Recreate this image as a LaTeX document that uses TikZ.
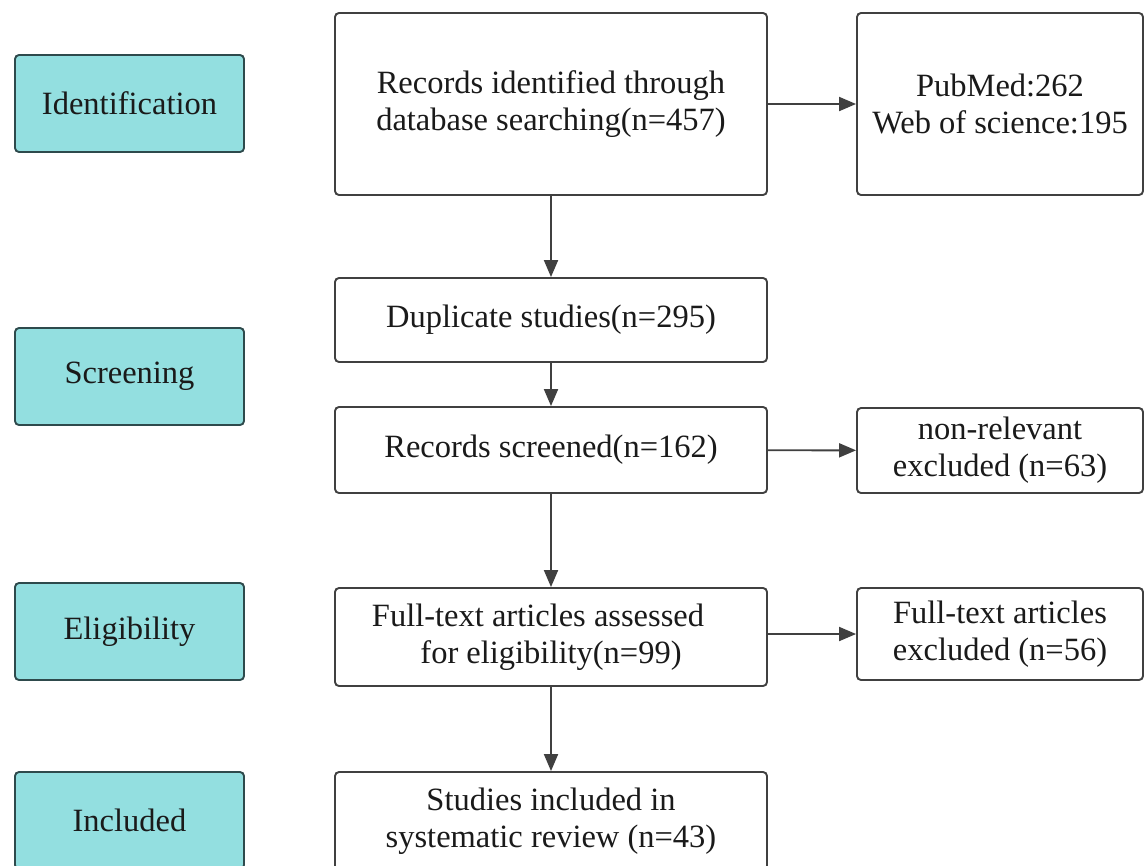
\documentclass[tikz,border=0pt]{standalone}
\usepackage{fontspec}
\setmainfont{Liberation Serif}
\usetikzlibrary{arrows.meta}
\definecolor{stagefill}{HTML}{93DFE0}
\definecolor{stageline}{HTML}{2E4A4C}
\definecolor{boxline}{HTML}{404040}
\definecolor{txt}{HTML}{1A1A1A}
\tikzset{
  stage/.style={draw=stageline, fill=stagefill, line width=1.9pt, rounded corners=4pt,
    minimum width=229pt, minimum height=97pt, inner sep=0pt,
    font=\fontsize{32.5}{37}\selectfont, text=txt},
  flowbox/.style={draw=boxline, fill=white, line width=1.9pt, rounded corners=4pt,
    inner sep=0pt, align=center, font=\fontsize{32.5}{37}\selectfont, text=txt},
  conn/.style={draw=boxline, line width=1.9pt, -{Triangle[length=17pt,width=14pt]}}
}
\begin{document}
\begin{tikzpicture}[x=1pt,y=-1pt]
\useasboundingbox (0,0) rectangle (1145,865);
\clip (0,0) rectangle (1145,865);
\fill[white] (0,0) rectangle (1145,865);
% stages
\node[stage] (sid) at (129.5,103.5) {Identification};
\node[stage] (ssc) at (129.5,376.5) {Screening};
\node[stage] (sel) at (129.5,631.5) {Eligibility};
\node[stage] (sin) at (129.5,820.5) {Included};
% center column
\node[flowbox, minimum width=432pt, minimum height=182pt] (rec) at (551,104)
  {Records identified through\\database searching(n=457)};
\node[flowbox, minimum width=432pt, minimum height=84pt] (dup) at (551,320)
  {Duplicate studies(n=295)};
\node[flowbox, minimum width=432pt, minimum height=86pt] (scr) at (551,450)
  {Records screened(n=162)};
\node[flowbox, minimum width=432pt, minimum height=98pt] (ful) at (551,637)
  {Full-text articles assessed\hspace*{26pt}\\for eligibility(n=99)};
\node[flowbox, minimum width=432pt, minimum height=98pt] (inc) at (551,821)
  {Studies included in\\systematic review (n=43)};
% right column
\node[flowbox, minimum width=286pt, minimum height=182pt] (pub) at (1000,104)
  {PubMed:262\\Web of science:195};
\node[flowbox, minimum width=286pt, minimum height=85pt] (nrl) at (1000,450.5)
  {non-relevant\\excluded (n=63)};
\node[flowbox, minimum width=286pt, minimum height=92pt] (fte) at (1000,634)
  {Full-text articles\\excluded (n=56)};
% connectors
\draw[conn] (rec) -- (dup);
\draw[conn] (dup) -- (scr);
\draw[conn] (scr) -- (ful);
\draw[conn] (ful) -- (inc);
\draw[conn] (rec) -- (pub);
\draw[conn] (scr) -- (nrl);
\draw[conn] (ful.east |- fte) -- (fte);
\end{tikzpicture}
\end{document}
